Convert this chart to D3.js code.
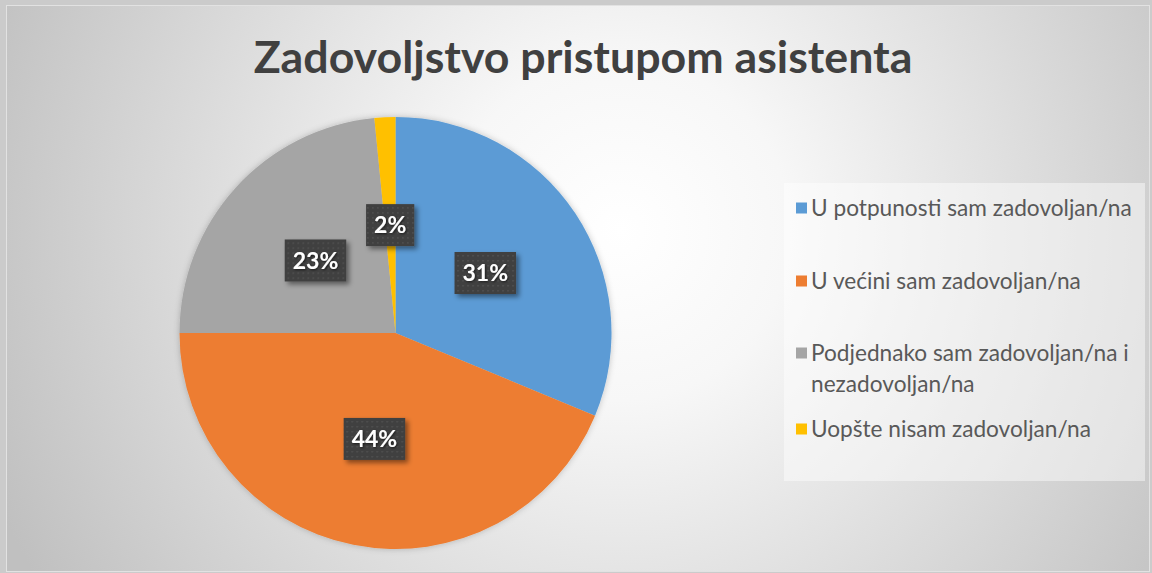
<!DOCTYPE html>
<html>
<head>
<meta charset="utf-8">
<script src="https://cdn.jsdelivr.net/npm/d3@7"></script>
<style>
  html, body { margin: 0; padding: 0; background: #cbcbcb; }
  svg { display: block; }
</style>
</head>
<body>
<svg id="chart"></svg>
<script>
// chart data
var title = "Zadovoljstvo pristupom asistenta";
var categories = [
    "U potpunosti sam zadovoljan/na",
    "U većini sam zadovoljan/na",
    "Podjednako sam zadovoljan/na i nezadovoljan/na",
    "Uopšte nisam zadovoljan/na"
];
var values = [20, 28, 15, 1];
var colors = ["#5B9BD5", "#ED7D31", "#A5A5A5", "#FFC000"];

var width = 1152, height = 573;
var svg = d3.select("#chart").attr("width", width).attr("height", height);
var defs = svg.append("defs");

// background
var grad = defs.append("radialGradient")
    .attr("id", "bg")
    .attr("gradientUnits", "userSpaceOnUse")
    .attr("cx", 620).attr("cy", 230).attr("r", 680);
grad.append("stop").attr("offset", "0").attr("stop-color", "#ffffff");
grad.append("stop").attr("offset", "0.25").attr("stop-color", "#f7f7f7");
grad.append("stop").attr("offset", "1").attr("stop-color", "#c0c0c0");

var shadow = defs.append("filter").attr("id", "shadow")
    .attr("x", "-20%").attr("y", "-20%").attr("width", "150%").attr("height", "150%");
shadow.append("feDropShadow").attr("dx", 3).attr("dy", 3).attr("stdDeviation", 2.5)
    .attr("flood-color", "#000").attr("flood-opacity", 0.45);

var pieShadow = defs.append("filter").attr("id", "pieShadow")
    .attr("x", "-10%").attr("y", "-10%").attr("width", "120%").attr("height", "120%");
pieShadow.append("feDropShadow").attr("dx", 0).attr("dy", 0).attr("stdDeviation", 3)
    .attr("flood-color", "#000").attr("flood-opacity", 0.22);

var txtShadow = defs.append("filter").attr("id", "txtShadow");
txtShadow.append("feDropShadow").attr("dx", 1).attr("dy", 1).attr("stdDeviation", 0.8)
    .attr("flood-color", "#000").attr("flood-opacity", 0.6);

var pat = defs.append("pattern").attr("id", "dots")
    .attr("patternUnits", "userSpaceOnUse")
    .attr("width", 5).attr("height", 5);
pat.append("rect").attr("width", 5).attr("height", 5).attr("fill", "#3f3f3f");
pat.append("rect").attr("x", 2).attr("y", 2).attr("width", 1.5).attr("height", 1.5).attr("fill", "#555555");

svg.append("rect")
    .attr("x", 6.5).attr("y", 5.5)
    .attr("width", 1143).attr("height", 566)
    .attr("fill", "url(#bg)")
    .attr("stroke", "#e2e2e2");

// title
var titleText = svg.append("text")
    .attr("x", 583).attr("y", 73)
    .attr("text-anchor", "middle")
    .attr("font-family", "Lato, 'Open Sans', sans-serif")
    .attr("font-weight", "bold")
    .attr("font-size", 40)
    .attr("fill", "#404040")
    .text(title);
var tw = titleText.node().getComputedTextLength();
titleText.attr("font-size", 40 * 659 / tw);

// pie
var cx = 395.5, cy = 333, radius = 216;
var pie = d3.pie().sort(null).value(function(d) { return d; });
var arcs = pie(values);
var total = d3.sum(values);
var arc = d3.arc().innerRadius(0).outerRadius(radius);
var labelArc = d3.arc().innerRadius(0).outerRadius(radius);

var g = svg.append("g").attr("transform", "translate(" + cx + "," + cy + ")");
g.append("g").attr("filter", "url(#pieShadow)")
    .selectAll("path")
    .data(arcs).enter().append("path")
    .attr("d", arc)
    .attr("fill", function(d, i) { return colors[i]; });

var pct = d3.format(".0%");
var labels = g.selectAll(".lbl")
    .data(arcs).enter().append("g")
    .attr("class", "lbl")
    .attr("transform", function(d) {
        var c = labelArc.centroid(d);
        return "translate(" + c[0] + "," + c[1] + ")";
    });

labels.each(function(d) {
    var sel = d3.select(this);
    var box = sel.append("rect").attr("fill", "url(#dots)").attr("filter", "url(#shadow)");
    var t = sel.append("text")
        .attr("text-anchor", "middle")
        .attr("dy", "0.36em")
        .attr("font-family", "Lato, 'Open Sans', sans-serif")
        .attr("font-weight", "bold")
        .attr("font-size", 23)
        .attr("fill", "#ffffff")
        .attr("filter", "url(#txtShadow)")
        .text(pct(d.value / total));
    var w = t.node().getComputedTextLength() + 16;
    box.attr("x", -w / 2).attr("y", -21).attr("width", w).attr("height", 42);
});

// legend
svg.append("rect")
    .attr("x", 784).attr("y", 183)
    .attr("width", 361).attr("height", 298)
    .attr("fill", "#ffffff").attr("fill-opacity", 0.45);

var legendRows = [208, 281, 353, 429];
var legendFont = 20;
var legend = svg.append("g");
var item = legend.selectAll(".item")
    .data(categories).enter().append("g")
    .attr("class", "item")
    .attr("transform", function(d, i) { return "translate(796," + legendRows[i] + ")"; });

item.append("rect")
    .attr("x", 0).attr("y", -5.5)
    .attr("width", 11).attr("height", 11)
    .attr("fill", function(d, i) { return colors[i]; });

item.append("text")
    .attr("x", 15).attr("y", 0)
    .attr("font-family", "Lato, 'Open Sans', sans-serif")
    .attr("font-size", legendFont)
    .attr("fill", "#595959")
    .each(function(d) {
        var t = d3.select(this);
        var lines = d.indexOf(" i nezadovoljan") > 0
            ? [d.replace(" nezadovoljan/na", ""), "nezadovoljan/na"]
            : [d];
        lines.forEach(function(line, k) {
            t.append("tspan").attr("x", 15).attr("dy", k === 0 ? "0.35em" : "1.35em").text(line);
        });
    });

// fit legend font to the reference width of the first entry
var firstW = item.select("text").node().getComputedTextLength();
var fs = legendFont * 321 / firstW;
item.selectAll("text").attr("font-size", fs);
</script>
</body>
</html>
